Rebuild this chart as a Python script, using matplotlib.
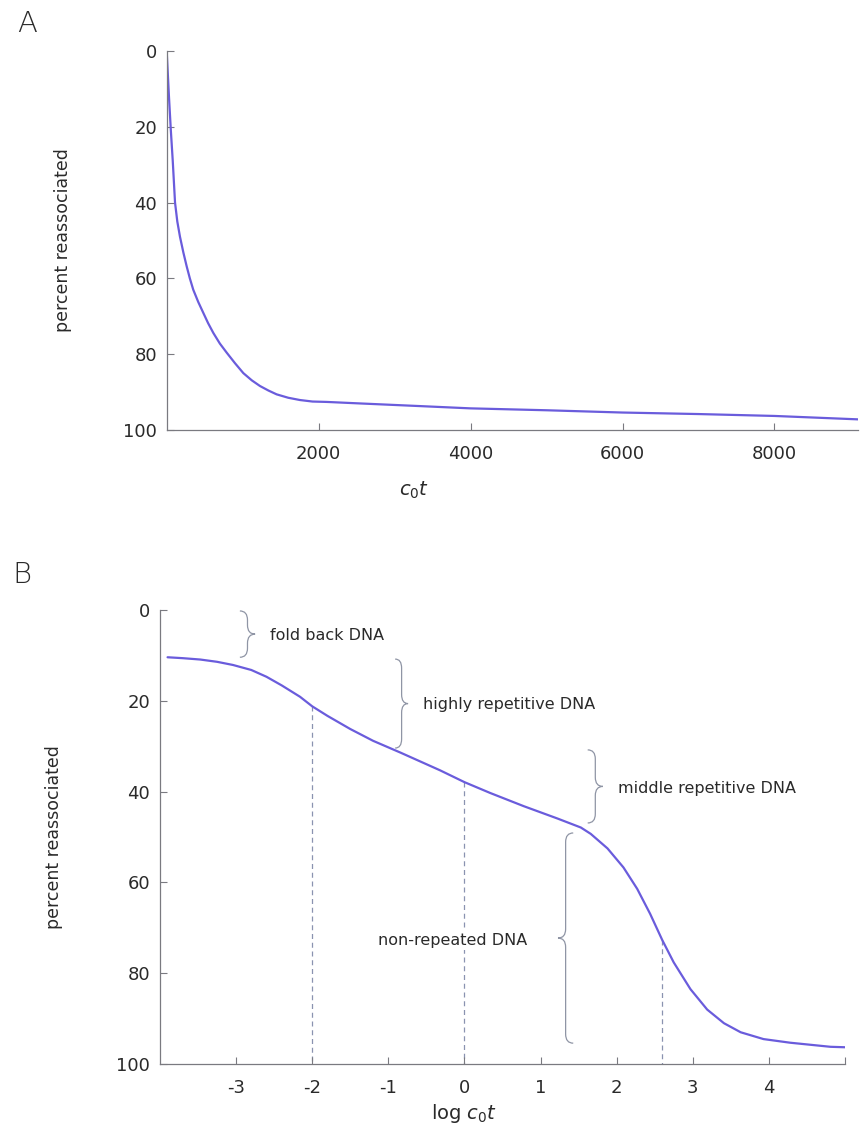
"""
Cot curves: DNA reassociation kinetics.
A: percent reassociated vs c0t (linear), B: vs log c0t with DNA classes.
"""

import matplotlib
matplotlib.use("Agg")
import matplotlib.pyplot as plt
from matplotlib.path import Path
from matplotlib.patches import PathPatch

# ── Panel A: linear c0t ──────────────────────────────────────
A_COT = [0, 15, 30, 55, 80, 110, 140, 175, 220, 263, 305, 350, 415, 482,
         545, 614, 700, 790, 900, 1009, 1120, 1228, 1340, 1447, 1600,
         1754, 1920, 2105, 2544, 3334, 4000, 5000, 6000, 7000, 8000, 9100]
A_PCT = [0, 6, 12, 21, 29, 40, 45, 49, 53.2, 56.8, 60, 63, 66.2, 69.1,
         71.8, 74.4, 77.2, 79.6, 82.4, 85, 86.9, 88.4, 89.6, 90.6, 91.5,
         92.1, 92.5, 92.6, 93, 93.7, 94.3, 94.8, 95.4, 95.8, 96.3, 97.2]
A_XTICKS = [2000, 4000, 6000, 8000]
Y_TICKS = [0, 20, 40, 60, 80, 100]

# ── Panel B: log c0t ─────────────────────────────────────────
B_LOGCOT = [-3.9, -3.7, -3.47, -3.25, -3.04, -2.8, -2.6, -2.4, -2.16, -2.0,
            -1.8, -1.5, -1.2, -0.84, -0.6, -0.32, 0, 0.34, 0.78, 1.22,
            1.53, 1.66, 1.88, 2.09, 2.27, 2.44, 2.6, 2.75, 2.97, 3.19,
            3.41, 3.63, 3.93, 4.28, 4.81, 5.0]
B_PCT = [10.4, 10.6, 10.9, 11.4, 12.1, 13.2, 14.7, 16.6, 19.1, 21.2,
         23.3, 26.2, 28.8, 31.4, 33.2, 35.3, 37.9, 40.3, 43.2, 45.9,
         47.9, 49.3, 52.5, 56.7, 61.4, 66.9, 72.7, 77.6, 83.5, 88.0,
         91.0, 93.0, 94.5, 95.3, 96.2, 96.3]
B_XTICKS = [-3, -2, -1, 0, 1, 2, 3, 4, 5]
B_XLABELS = ["-3", "-2", "-1", "0", "1", "2", "3", "4", ""]

# half-reassociation markers (x, top of dashed line)
DROP_X = [-2.0, 0.0, 2.6]
DROP_Y = [21.2, 37.9, 72.7]

# DNA classes: label, brace x, brace span, label position
CLASS_NAMES = ["fold back DNA", "highly repetitive DNA",
               "middle repetitive DNA", "non-repeated DNA"]
BRACE_X = [-2.95, -0.91, 1.62, 1.43]
BRACE_W = [0.2, 0.17, 0.2, -0.2]
BRACE_Y0 = [0.2, 10.8, 30.8, 49.1]
BRACE_Y1 = [10.4, 30.4, 46.9, 95.4]
LABEL_X = [-2.55, -0.55, 2.02, 0.83]
LABEL_Y = [5.5, 20.7, 39.2, 72.7]
LABEL_HA = ["left", "left", "left", "right"]

CURVE = "#6a5cdc"
AXIS = "#7a7a80"
DASH = "#8a93b0"
TEXT = "#2a2a2a"

plt.rcParams["font.family"] = ["DejaVu Sans"]


def style_axis(ax):
    for side in ("top", "right"):
        ax.spines[side].set_visible(False)
    for side in ("left", "bottom"):
        ax.spines[side].set_color(AXIS)
        ax.spines[side].set_linewidth(0.9)
    ax.tick_params(direction="in", length=5, width=0.8, color=AXIS,
                   labelsize=13, labelcolor=TEXT)
    ax.tick_params(axis="x", pad=11)
    ax.tick_params(axis="y", pad=7)
    ax.set_ylim(100, 0)
    ax.set_yticks(Y_TICKS)
    ax.set_ylabel("percent reassociated", fontsize=12.5, color=TEXT)


def brace(ax, x, y0, y1, w, h):
    """Curly brace from y0 to y1, open side at x, tip at x + w."""
    ym = (y0 + y1) / 2
    xm = x + w / 2
    verts = [(x, y0), (xm, y0), (xm, y0 + h), (xm, ym - h),
             (xm, ym), (x + w, ym), (xm, ym), (xm, ym + h),
             (xm, y1 - h), (xm, y1), (x, y1)]
    codes = [Path.MOVETO, Path.CURVE3, Path.CURVE3, Path.LINETO,
             Path.CURVE3, Path.CURVE3, Path.CURVE3, Path.CURVE3,
             Path.LINETO, Path.CURVE3, Path.CURVE3]
    ax.add_patch(PathPatch(Path(verts, codes), fill=False,
                           edgecolor="#8f95a5", linewidth=0.9))


fig = plt.figure(figsize=(8.6, 11.39), dpi=100)

# Panel A
axA = fig.add_axes([0.1938, 0.6225, 0.8039, 0.3328])
style_axis(axA)
axA.plot(A_COT, A_PCT, color=CURVE, linewidth=1.6,
         solid_joinstyle="round", solid_capstyle="round")
axA.set_xlim(0, 9100)
axA.set_xticks(A_XTICKS)
axA.set_xlabel(r"$c_0t$", fontsize=14, color=TEXT)
axA.xaxis.set_label_coords(0.358, -0.13)
axA.yaxis.set_label_coords(-0.137, 0.5)
fig.text(0.031, 0.979, "A", fontsize=21, color=TEXT, fontweight="light",
         ha="center", va="center")

# Panel B
axB = fig.add_axes([0.186, 0.0658, 0.7965, 0.3986])
style_axis(axB)
axB.plot(B_LOGCOT, B_PCT, color=CURVE, linewidth=1.6,
         solid_joinstyle="round", solid_capstyle="round")
axB.set_xlim(-4, 5)
axB.set_xticks(B_XTICKS)
axB.set_xticklabels(B_XLABELS)
axB.set_xlabel(r"log $c_0t$", fontsize=14, color=TEXT)
axB.xaxis.set_label_coords(0.444, -0.083)
axB.yaxis.set_label_coords(-0.1416, 0.5)
fig.text(0.026, 0.495, "B", fontsize=21, color=TEXT, fontweight="light",
         ha="center", va="center")

axB.vlines(DROP_X, DROP_Y, 100, colors=DASH, linestyles=(0, (4, 3)),
           linewidth=0.9, zorder=1)

for name, bx, bw, y0, y1, lx, ly, ha in zip(CLASS_NAMES, BRACE_X, BRACE_W,
                                            BRACE_Y0, BRACE_Y1, LABEL_X,
                                            LABEL_Y, LABEL_HA):
    h = min(2.0, (y1 - y0) / 5)
    brace(axB, bx, y0, y1, bw, h)
    axB.text(lx, ly, name, ha=ha, va="center", fontsize=11.5, color=TEXT,
             zorder=3,
             bbox=dict(facecolor="white", edgecolor="none", pad=1.5))

fig.savefig("out.png", dpi=100)
